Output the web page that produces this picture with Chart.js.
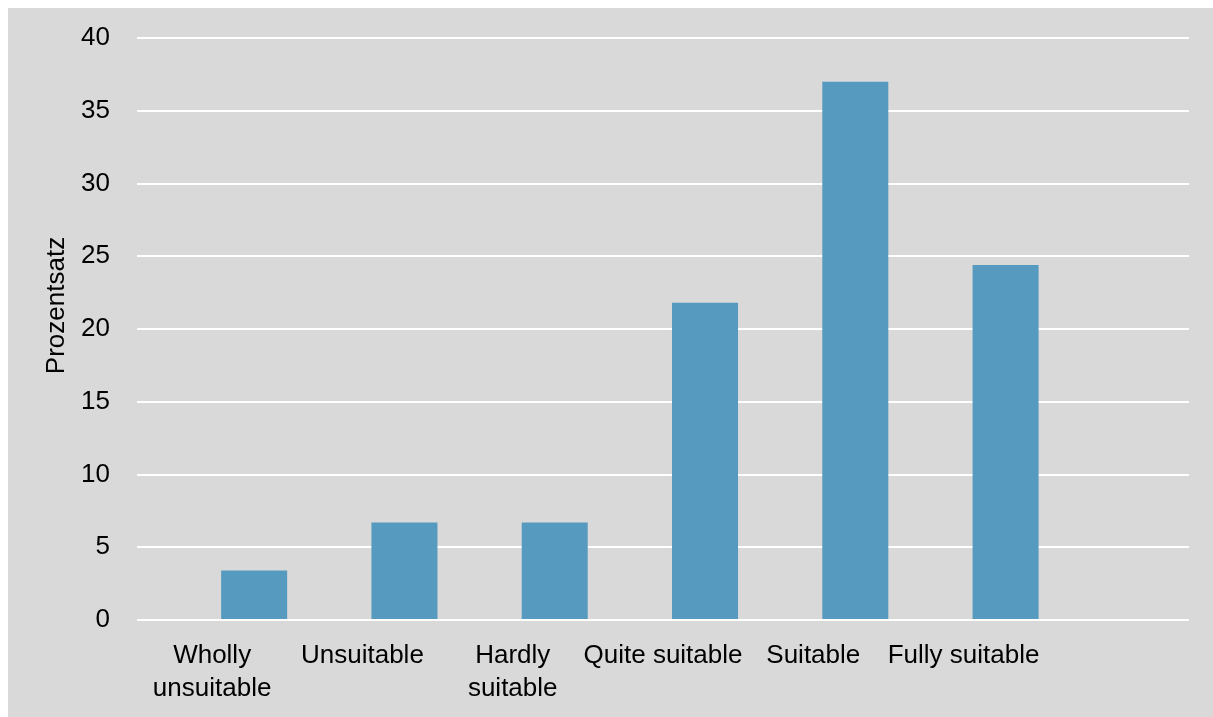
<!DOCTYPE html>
<html>
<head>
<meta charset="utf-8">
<title>Prozentsatz</title>
<script src="https://cdn.jsdelivr.net/npm/chart.js@4/dist/chart.umd.min.js"></script>
<style>
  html, body { margin: 0; padding: 0; background: #ffffff; overflow: hidden; }
  #wrap { position: absolute; left: 8px; top: 8px; width: 1205px; height: 709px; background: #d9d9d9; }
  #c { display: block; }
</style>
</head>
<body>
<div id="wrap"><canvas id="c" width="1205" height="709"></canvas></div>
<script>
// Rating categories (the last slot is left empty on purpose)
const categories = [["Wholly", "unsuitable"], "Unsuitable", ["Hardly", "suitable"], "Quite suitable", "Suitable", "Fully suitable", ""];
// Share of answers per rating, in percent
const percentages = [3.4, 6.7, 6.7, 21.8, 37.0, 24.4, null];
// Empty companion series that keeps the bars shifted right of each label
const spacer = [null, null, null, null, null, null, null];
// Value axis
const yMin = 0;
const yMax = 40;
const yStep = 5;
const yTitle = "Prozentsatz";

const FONT = "'Liberation Sans Narrow', 'Arial Narrow', 'Liberation Sans', Arial, sans-serif";
const FONT_SIZE = 26;
const TEXT = "#000000";

// Vertical axis caption, drawn left of the value labels
const yTitlePlugin = {
  id: "yTitle",
  afterDraw(chart) {
    const ctx = chart.ctx;
    ctx.save();
    ctx.translate(48.5, 297.5);
    ctx.rotate(-Math.PI / 2);
    ctx.font = FONT_SIZE + "px " + FONT;
    ctx.fillStyle = TEXT;
    ctx.textAlign = "center";
    ctx.textBaseline = "middle";
    ctx.fillText(yTitle, 0, 0);
    ctx.restore();
  }
};

new Chart(document.getElementById("c"), {
  type: "bar",
  data: {
    labels: categories,
    datasets: [
      { label: "", data: spacer, backgroundColor: "rgba(0,0,0,0)" },
      { label: yTitle, data: percentages, backgroundColor: "#569bbf", borderWidth: 0 }
    ]
  },
  options: {
    responsive: false,
    animation: false,
    categoryPercentage: 1.118,
    barPercentage: 0.786,
    layout: { padding: { top: 30, right: 24, left: 0, bottom: 0 } },
    plugins: {
      legend: { display: false },
      title: { display: false },
      tooltip: { enabled: false }
    },
    scales: {
      x: {
        grid: { display: false, drawTicks: false },
        border: { display: false },
        ticks: {
          color: TEXT,
          padding: 19.5,
          maxRotation: 0,
          autoSkip: false,
          font: { family: FONT, size: FONT_SIZE, lineHeight: 1.27 }
        },
        afterFit(scale) {
          scale.height = 97;
          scale.paddingLeft = 0;
          scale.paddingRight = 0;
          scale.paddingTop = 0;
          scale.paddingBottom = 0;
        }
      },
      y: {
        min: yMin,
        max: yMax,
        grid: { color: "#ffffff", lineWidth: 2, drawTicks: false },
        border: { display: false },
        ticks: {
          stepSize: yStep,
          color: TEXT,
          padding: 27,
          font: { family: FONT, size: FONT_SIZE }
        },
        afterFit(scale) {
          scale.width = 129;
          scale.paddingTop = 0;
          scale.paddingBottom = 0;
          scale.paddingLeft = 0;
          scale.paddingRight = 0;
        }
      }
    }
  },
  plugins: [yTitlePlugin]
});
</script>
</body>
</html>
